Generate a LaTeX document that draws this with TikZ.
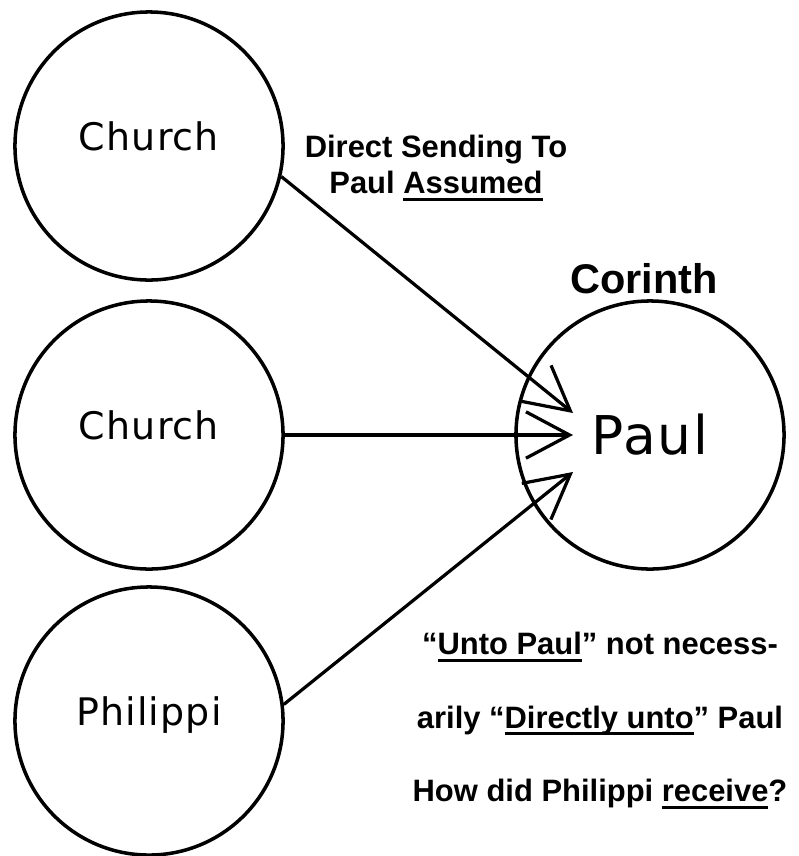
\documentclass[tikz,border=0pt]{standalone}
\usepackage{fontspec}
\setmainfont{Liberation Sans}
\newfontfamily\circlefont[LetterSpace=3]{DejaVu Sans}
\newsavebox{\undlbox}
\newcommand{\undl}[1]{\sbox{\undlbox}{#1}\rlap{\usebox{\undlbox}}\rule[-5pt]{\wd\undlbox}{2.2pt}}
\usepackage{tikz}
\usetikzlibrary{arrows.meta,positioning}

\begin{document}
\begin{tikzpicture}[x=0.025cm, y=-0.025cm,
  town/.style={circle, draw, line width=2.5pt, minimum size=6.7cm, inner sep=0pt},
  sender/.style={town, font=\circlefont\fontsize{27}{30}\selectfont, text height=20pt, text depth=14pt},
  send/.style={line width=2.3pt, -{Straight Barb[length=31pt,width=33pt]}},
  note/.style={font=\bfseries\fontsize{22}{25.6}\selectfont, align=center, inner sep=0pt}]
\useasboundingbox (0,0) rectangle (798,856);
% senders on the left
\node[sender] (church1) at (149,146) {Church};
\node[sender] (church2) at (149,435) {Church};
\node[sender] (philippi) at (149,721) {Philippi};
% Paul at Corinth
\node[town, font=\circlefont\fontsize{38}{40}\selectfont] (paul) at (650,435) {Paul};
\node[font=\bfseries\fontsize{29.5}{32}\selectfont, anchor=base, inner sep=0pt] (corinth) at (644,293) {Corinth};
% arrow ends inside Paul's circle
\coordinate (inA) at ([shift={(-77,-22)}]paul.center);
\coordinate (inB) at ([shift={(-77,0)}]paul.center);
\coordinate (inC) at ([shift={(-77,37)}]paul.center);
\draw[send] (church1.-13.5) -- (inA);
\draw[send] (church2.east) -- (inB);
\draw[send] (philippi.7.5) -- (inC);
% notes
\node[note, anchor=north] (direct) at (436,135) {Direct Sending To\\Paul \undl{Assumed}};
\node[note, anchor=north, font=\bfseries\fontsize{22}{52.3}\selectfont] (unto) at (600,632)
  {“\undl{Unto Paul}” not necess-\\arily “\undl{Directly unto}” Paul\\How did Philippi \undl{receive}?};
\end{tikzpicture}
\end{document}
